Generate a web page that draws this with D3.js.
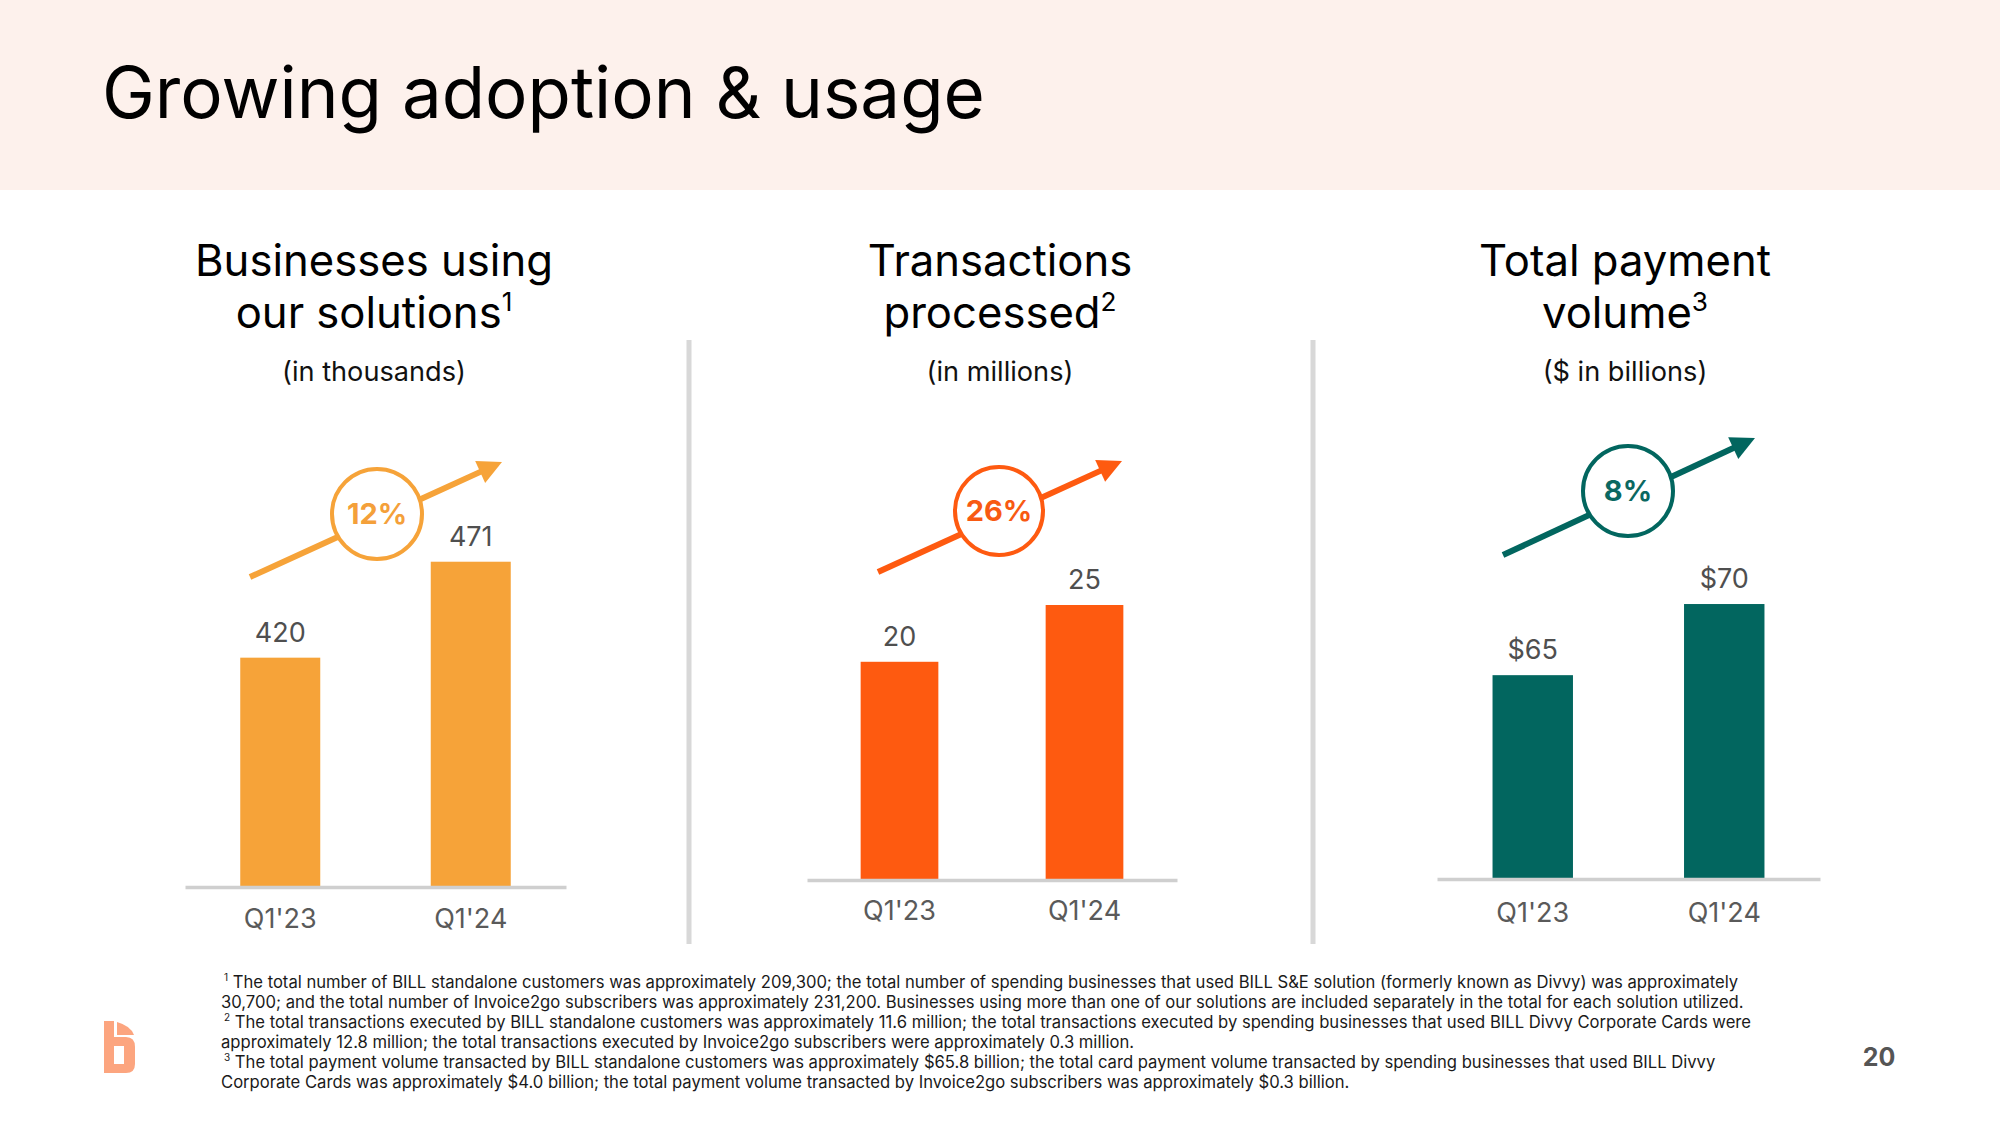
<!DOCTYPE html>
<html><head><meta charset="utf-8">
<script src="https://cdn.jsdelivr.net/npm/d3@7"></script>
<style>html,body{margin:0;padding:0;background:#fff;} svg{display:block;font-family:Inter,"Noto Sans",sans-serif;}</style>
</head><body><svg id="c" width="2000" height="1125"></svg>
<script>
// ---------- data ----------
const categories = ["Q1'23", "Q1'24"];
const businessesValues = [420.7, 471.2];
const businessesLabels = ["420", "471"];
const transactionsValues = [19.6, 24.7];
const transactionsLabels = ["20", "25"];
const tpvValues = [64.9, 70.1];
const tpvLabels = ["$65", "$70"];
const growthLabels = ["12%", "26%", "8%"];
const panelTitleLines = [["Businesses using", "our solutions"], ["Transactions", "processed"], ["Total payment", "volume"]];
const panelNoteMarks = ["1", "2", "3"];
const panelUnits = ["(in thousands)", "(in millions)", "($ in billions)"];
const slideTitle = "Growing adoption & usage";
const pageNumber = "20";
const footnoteLines = [
  ["1", "The total number of BILL standalone customers was approximately 209,300; the total number of spending businesses that used BILL S&E solution (formerly known as Divvy) was approximately"],
  ["", "30,700; and the total number of Invoice2go subscribers was approximately 231,200. Businesses using more than one of our solutions are included separately in the total for each solution utilized."],
  ["2", "The total transactions executed by BILL standalone customers was approximately 11.6 million; the total transactions executed by spending businesses that used BILL Divvy Corporate Cards were"],
  ["", "approximately 12.8 million; the total transactions executed by Invoice2go subscribers were approximately 0.3 million."],
  ["3", "The total payment volume transacted by BILL standalone customers was approximately $65.8 billion; the total card payment volume transacted by spending businesses that used BILL Divvy"],
  ["", "Corporate Cards was approximately $4.0 billion; the total payment volume transacted by Invoice2go subscribers was approximately $0.3 billion."]
];

// ---------- layout ----------
const panels = [
  {values: businessesValues, labels: businessesLabels, domain: [300, 500], color: "#f6a339", text: "#f4a03a",
   x0: 185, x1: 566, axisY: 887, top: 507, cx: 374, catGap: 41,
   arrow: {sx: 250, sy: 577, tx: 502, ty: 462, cx: 377, cy: 514, r: 45}},
  {values: transactionsValues, labels: transactionsLabels, domain: [0, 30], color: "#fe5a10", text: "#f85a12",
   x0: 807, x1: 1177, axisY: 880, top: 546, cx: 1000, catGap: 40,
   arrow: {sx: 878, sy: 572, tx: 1122, ty: 461, cx: 999, cy: 511, r: 44}},
  {values: tpvValues, labels: tpvLabels, domain: [50, 75], color: "#02665f", text: "#0b6861",
   x0: 1437, x1: 1820, axisY: 879, top: 537, cx: 1625, catGap: 43,
   arrow: {sx: 1503, sy: 555, tx: 1755, ty: 438, cx: 1628, cy: 491, r: 45}}
];

const svg = d3.select("#c");

function fitSize(sel, target) {
  const w = sel.node().getComputedTextLength();
  const fs = parseFloat(sel.attr("font-size"));
  const nfs = fs * target / w;
  sel.attr("font-size", nfs);
  return nfs;
}

// header band
svg.append("rect").attr("x", 0).attr("y", 0).attr("width", 2000).attr("height", 190).attr("fill", "#fdf1ec");
const t = svg.append("text").attr("x", 102).attr("y", 118).attr("font-size", 70).attr("fill", "#000")
  .attr("font-weight", 400).text(slideTitle);
fitSize(t, 883);

// dividers
[689, 1313].forEach(x => svg.append("line").attr("x1", x).attr("x2", x).attr("y1", 340).attr("y2", 944)
  .attr("stroke", "#d8d8d8").attr("stroke-width", 5));

// panel titles (fit size on first panel)
const probe = svg.append("text").attr("font-size", 44).text(panelTitleLines[0][0]);
const titleFs = fitSize(probe, 358);
probe.remove();
const unitProbe = svg.append("text").attr("font-size", 26).text(panelUnits[0]);
const unitFs = fitSize(unitProbe, 184);
unitProbe.remove();

panels.forEach((p, i) => {
  const g = svg.append("g");
  g.append("text").attr("x", p.cx).attr("y", 276).attr("text-anchor", "middle").attr("font-size", titleFs)
    .attr("fill", "#000").text(panelTitleLines[i][0]);
  const l2 = g.append("text").attr("x", p.cx).attr("y", 328).attr("text-anchor", "middle").attr("font-size", titleFs)
    .attr("fill", "#000");
  l2.append("tspan").text(panelTitleLines[i][1]);
  l2.append("tspan").attr("font-size", titleFs * 0.6).attr("dy", -titleFs * 0.4).text(panelNoteMarks[i]);
  g.append("text").attr("x", p.cx).attr("y", 381).attr("text-anchor", "middle").attr("font-size", unitFs)
    .attr("fill", "#111").text(panelUnits[i]);

  // scales
  const x = d3.scaleBand().domain(categories).range([p.x0, p.x1]).paddingInner(0.58).paddingOuter(0.29);
  const y = d3.scaleLinear().domain(p.domain).range([p.axisY, p.top]);

  g.selectAll("rect.bar").data(categories).join("rect").attr("class", "bar")
    .attr("x", d => x(d)).attr("width", x.bandwidth())
    .attr("y", (d, j) => y(p.values[j])).attr("height", (d, j) => p.axisY - y(p.values[j]))
    .attr("fill", p.color);

  g.selectAll("text.val").data(categories).join("text").attr("class", "val")
    .attr("x", d => x(d) + x.bandwidth() / 2).attr("y", (d, j) => y(p.values[j]) - 16)
    .attr("text-anchor", "middle").attr("font-size", 27).attr("fill", "#4f4f4f")
    .text((d, j) => p.labels[j]);

  const ax = g.append("g").attr("transform", `translate(0,${p.axisY})`)
    .call(d3.axisBottom(x).tickSize(0).tickSizeOuter(0));
  ax.select(".domain").attr("stroke", "#cfcfcf").attr("stroke-width", 3.5);
  ax.selectAll(".tick text").attr("y", p.catGap).attr("dy", 0).attr("font-size", 27)
    .attr("font-family", "Inter, 'Noto Sans', sans-serif").attr("fill", "#5a5a5a");

  // growth arrow
  const a = p.arrow;
  const ang = Math.atan2(a.ty - a.sy, a.tx - a.sx);
  const hl = 24, hw = 12;
  const bx = a.tx - hl * Math.cos(ang), by = a.ty - hl * Math.sin(ang);
  g.append("line").attr("x1", a.sx).attr("y1", a.sy).attr("x2", bx + 2 * Math.cos(ang)).attr("y2", by + 2 * Math.sin(ang))
    .attr("stroke", p.color).attr("stroke-width", 6);
  g.append("path").attr("d", `M${a.tx},${a.ty}L${bx + hw * Math.sin(ang)},${by - hw * Math.cos(ang)}L${bx - hw * Math.sin(ang)},${by + hw * Math.cos(ang)}Z`)
    .attr("fill", p.color);
  g.append("circle").attr("cx", a.cx).attr("cy", a.cy).attr("r", a.r).attr("fill", "#fff")
    .attr("stroke", p.color).attr("stroke-width", 4);
  g.append("text").attr("x", a.cx).attr("y", a.cy + 10).attr("text-anchor", "middle")
    .attr("font-size", 29).attr("font-weight", 700).attr("fill", p.text).text(growthLabels[i]);
});

// footnotes
const fnProbe = svg.append("text").attr("font-size", 16).text(footnoteLines[0][0] + " " + footnoteLines[0][1]);
const fnFs = fitSize(fnProbe, 1518);
fnProbe.remove();
const fnY = [988, 1008, 1028, 1048, 1068, 1088];
footnoteLines.forEach((ln, i) => {
  const tx = svg.append("text").attr("x", ln[0] ? 224 : 221).attr("y", fnY[i]).attr("font-size", fnFs).attr("fill", "#1a1a1a");
  if (ln[0]) {
    tx.append("tspan").attr("font-size", fnFs * 0.6).attr("dy", -fnFs * 0.4).text(ln[0]);
    tx.append("tspan").attr("dy", fnFs * 0.4).text(" " + ln[1]);
  } else {
    tx.text(ln[1]);
  }
});

// page number
svg.append("text").attr("x", 1879).attr("y", 1066).attr("text-anchor", "middle").attr("font-size", 25)
  .attr("font-weight", 700).attr("fill", "#555").text(pageNumber);

// logo
const logo = svg.append("g").attr("fill", "#fca57f");
logo.append("path").attr("d", "M104,1021 L114,1021 L114,1037 L126,1037 Q135,1037 135,1047 L135,1064 Q135,1073 126,1073 L104,1073 Z M114,1046 L114,1064 L124,1064 L124,1046 Z")
  .attr("fill-rule", "evenodd");
logo.append("path").attr("d", "M117,1022 Q131,1026 134,1035 L117,1035 Z");
</script></body></html>
